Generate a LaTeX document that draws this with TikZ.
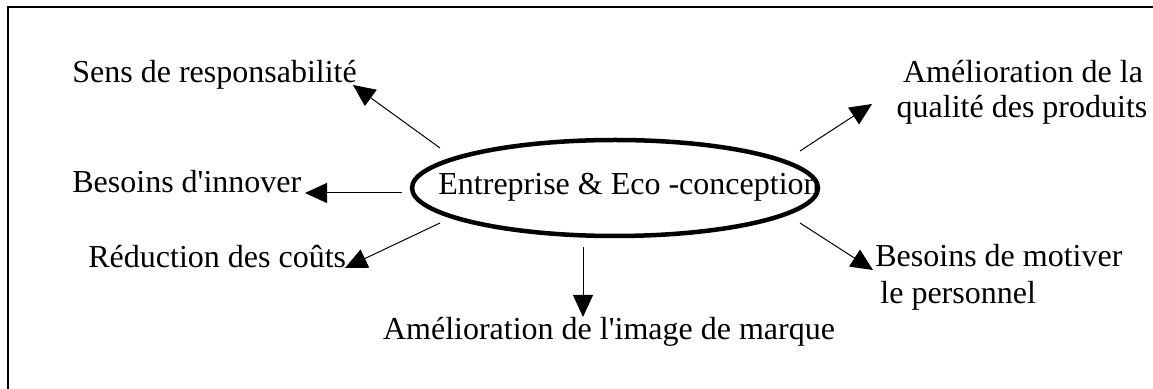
\documentclass[tikz,border=0pt]{standalone}
\usepackage{fontspec}
\setmainfont{Liberation Serif}
\usetikzlibrary{shapes.geometric,arrows.meta}
\begin{document}
\begin{tikzpicture}[x=0.5pt,y=-0.5pt,
  lbl/.style={inner sep=0pt,font=\fontsize{16}{17.5}\selectfont},
  ray/.style={line width=0.5pt,-{Triangle[length=11pt,width=10pt]}},
  hub/.style={ellipse,draw,line width=2.25pt,minimum width=203pt,minimum height=48pt,inner sep=0pt}]
\useasboundingbox (0,0) rectangle (1153,389);
% open frame: top and left rules
\draw[line width=1pt] (1153,7) -- (8,7) -- (8,389);

% central ellipse and its caption
\node[hub] (core) at (615,188) {};
\node[lbl,anchor=base west] (coretxt) at (438,195) {Entreprise \& Eco -conception};

% surrounding labels
\node[lbl,anchor=base west] (sens) at (72,83) {Sens de responsabilité};
\node[lbl,anchor=base west] (innov) at (72,193) {Besoins d\textquotesingle innover};
\node[lbl,anchor=base west] (couts) at (88,268) {Réduction des coûts};
\node[lbl,anchor=base] (image) at (609,340) {Amélioration de l\textquotesingle image de marque};
\node[lbl,anchor=base] (qual1) at (1023,83) {Amélioration de la};
\node[lbl,anchor=base] (qual2) at (1022,118) {qualité des produits};
\node[lbl,anchor=base west] (motiv1) at (875,267) {Besoins de motiver};
\node[lbl,anchor=base west] (motiv2) at (880,304) {le personnel};

% arrow start and tip points
\coordinate (s1) at (440,148);  \coordinate (t1) at (353,85);
\coordinate (s2) at (402,193);  \coordinate (t2) at (305,193);
\coordinate (s3) at (440,223);  \coordinate (t3) at (345,268);
\coordinate (s4) at (583,247);  \coordinate (t4) at (583,317);
\coordinate (s5) at (800,151);  \coordinate (t5) at (872,104);
\coordinate (s6) at (800,223);  \coordinate (t6) at (873,270);

\draw[ray] (s1) -- (t1);
\draw[ray] (s2) -- (t2);
\draw[ray] (s3) -- (t3);
\draw[ray] (s4) -- (t4);
\draw[ray] (s5) -- (t5);
\draw[ray] (s6) -- (t6);
\end{tikzpicture}
\end{document}
